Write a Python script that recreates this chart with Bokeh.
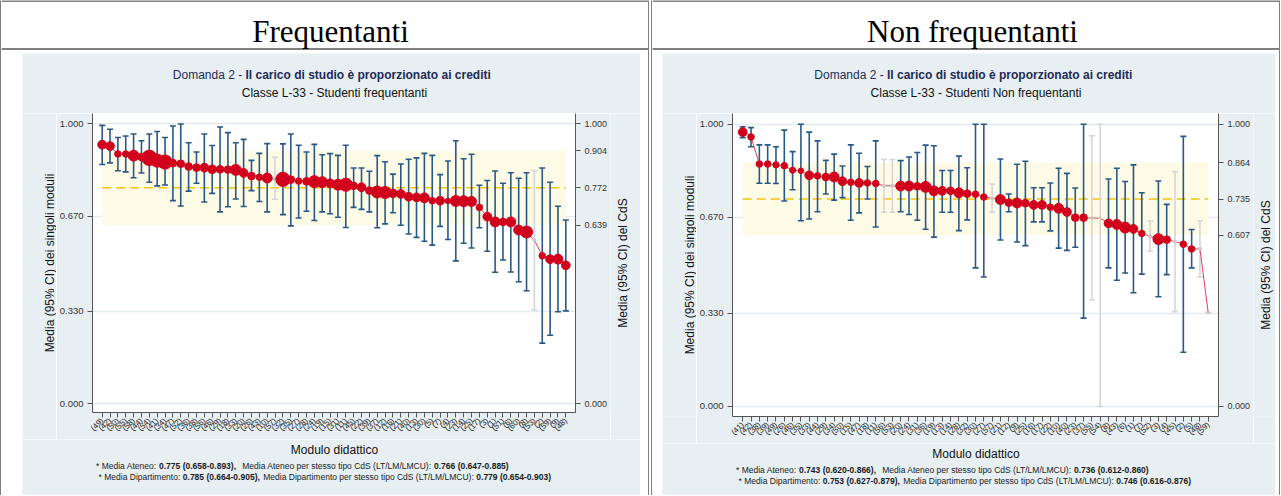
import math
from bokeh.plotting import figure
from bokeh.layouts import row, column
from bokeh.models import (Range1d, FixedTicker, PrintfTickFormatter, LinearAxis,
                          Label, ColumnDataSource, Spacer, Span)
from bokeh.embed import file_html
from bokeh.resources import INLINE

# ---------------- data ----------------
HEADERS = ["Frequentanti", "Non frequentanti"]
TITLE_A = "Domanda 2 -"
TITLE_B = "Il carico di studio è proporzionato ai crediti"
SUBTITLES = ["Classe L-33 - Studenti frequentanti", "Classe L-33 - Studenti Non frequentanti"]
Y_LABEL_L = "Media (95% CI) dei singoli moduli"
Y_LABEL_R = "Media (95% CI) del CdS"
X_LABEL = "Modulo didattico"
LEFT_TICKS = [0.0, 0.33, 0.67, 1.0]

# --- Frequentanti ---
F_LABELS = ["(49)", "(42)", "(50)", "(55)", "(58)", "(44)", "(54)", "(41)", "(34)", "(47)",
            "(52)", "(36)", "(38)", "(56)", "(46)", "(29)", "(18)", "(33)", "(20)", "(26)",
            "(43)", "(10)", "(57)", "(32)", "(35)", "(27)", "(28)", "(24)", "(19)", "(15)",
            "(31)", "(11)", "(45)", "(22)", "(39)", "(37)", "(12)", "(16)", "(21)", "(40)",
            "(13)", "(30)", "(5)", "(7)", "(4)", "(23)", "(14)", "(25)", "(17)", "(3)",
            "(1)", "(51)", "(6)", "(60)", "(8)", "(53)", "(2)", "(59)", "(9)", "(48)"]
F_MEAN = [0.926, 0.921, 0.893, 0.893, 0.887, 0.882, 0.879, 0.869, 0.864, 0.860,
          0.858, 0.848, 0.844, 0.844, 0.838, 0.838, 0.837, 0.836, 0.825, 0.814,
          0.810, 0.807, 0.802, 0.802, 0.801, 0.796, 0.795, 0.794, 0.792, 0.788,
          0.783, 0.783, 0.779, 0.774, 0.762, 0.757, 0.755, 0.752, 0.750, 0.740,
          0.738, 0.736, 0.726, 0.726, 0.725, 0.725, 0.724, 0.723, 0.702, 0.669,
          0.650, 0.650, 0.650, 0.621, 0.614, 0.585, 0.529, 0.517, 0.517, 0.495]
F_HI = [0.995, 0.981, 0.952, 0.957, 0.964, 0.940, 0.964, 0.973, 0.952, 0.993,
        1.000, 0.933, 0.900, 0.964, 0.923, 0.989, 0.969, 0.933, 0.945, 0.870,
        0.895, 0.930, 0.881, 0.929, 0.964, 0.924, 0.900, 0.927, 0.890, 0.894,
        0.888, 0.924, 0.843, 0.843, 0.831, 0.887, 0.865, 0.821, 0.857, 0.874,
        0.879, 0.895, 0.888, 0.819, 0.868, 0.940, 0.876, 0.892, 0.781, 0.798,
        0.832, 0.788, 0.826, 0.806, 0.826, 0.833, 0.843, 0.792, 0.706, 0.657]
F_LO = [0.855, 0.861, 0.833, 0.829, 0.808, 0.825, 0.792, 0.779, 0.782, 0.726,
        0.707, 0.760, 0.788, 0.721, 0.752, 0.686, 0.704, 0.732, 0.705, 0.762,
        0.723, 0.686, 0.731, 0.676, 0.636, 0.664, 0.688, 0.655, 0.686, 0.679,
        0.667, 0.630, 0.702, 0.695, 0.686, 0.629, 0.643, 0.683, 0.638, 0.607,
        0.595, 0.581, 0.567, 0.634, 0.587, 0.511, 0.574, 0.557, 0.629, 0.545,
        0.470, 0.514, 0.471, 0.436, 0.404, 0.336, 0.217, 0.245, 0.329, 0.332]
F_N = [25, 25, 14, 14, 39, 19, 77, 56, 66, 19,
       19, 19, 19, 25, 25, 19, 19, 39, 25, 19,
       14, 32, 3, 66, 19, 14, 19, 47, 39, 25,
       39, 56, 19, 25, 19, 47, 47, 25, 25, 25,
       25, 32, 14, 25, 10, 39, 39, 32, 14, 25,
       32, 19, 32, 32, 47, 3, 14, 25, 32, 25]
F_CDS = [0.772, 0.639, 0.904]          # media CdS, limite inferiore, limite superiore
F_NOTE1 = ["* Media Ateneo:", "0.775 (0.658-0.893),",
           "Media Ateneo per stesso tipo CdS (LT/LM/LMCU):", "0.766 (0.647-0.885)"]
F_NOTE2 = ["* Media Dipartimento:", "0.785 (0.664-0.905),",
           "Media Dipartimento per stesso tipo CdS (LT/LM/LMCU):", "0.779 (0.654-0.903)"]

# --- Non frequentanti ---
N_LABELS = ["(41)", "(42)", "(38)", "(39)", "(49)", "(26)", "(46)", "(35)", "(33)", "(44)",
            "(29)", "(34)", "(50)", "(15)", "(47)", "(18)", "(11)", "(56)", "(53)", "(20)",
            "(24)", "(31)", "(36)", "(19)", "(13)", "(14)", "(28)", "(32)", "(30)", "(27)",
            "(57)", "(21)", "(12)", "(9)", "(25)", "(16)", "(17)", "(22)", "(10)", "(40)",
            "(23)", "(37)", "(55)", "(54)", "(8)", "(43)", "(6)", "(1)", "(7)", "(52)",
            "(3)", "(4)", "(45)", "(2)", "(5)", "(48)", "(59)"]
N_MEAN = [0.972, 0.955, 0.859, 0.859, 0.856, 0.853, 0.837, 0.835, 0.819, 0.817,
          0.813, 0.813, 0.798, 0.794, 0.792, 0.792, 0.790, 0.782, 0.782, 0.781,
          0.781, 0.780, 0.778, 0.764, 0.764, 0.764, 0.757, 0.754, 0.752, 0.742,
          0.738, 0.733, 0.722, 0.721, 0.720, 0.714, 0.714, 0.706, 0.702, 0.689,
          0.669, 0.669, 0.668, 0.667, 0.649, 0.645, 0.634, 0.629, 0.613, 0.603,
          0.593, 0.591, 0.584, 0.575, 0.558, 0.558, 0.331]
N_HI = [0.991, 0.988, 0.927, 0.927, 0.920, 0.979, 0.903, 1.000, 0.972, 0.941,
        0.872, 0.894, 0.852, 0.927, 0.897, 0.850, 0.941, 0.875, 0.875, 0.871,
        0.884, 0.900, 0.926, 0.924, 0.836, 0.836, 0.887, 0.846, 1.000, 1.000,
        0.788, 0.877, 0.753, 0.858, 0.869, 0.775, 0.775, 0.792, 0.844, 0.826,
        0.774, 1.000, 0.959, 1.000, 0.806, 0.844, 0.797, 0.856, 0.757, 0.657,
        0.799, 0.716, 0.832, 0.957, 0.627, 0.658, 0.333]
N_LO = [0.952, 0.920, 0.791, 0.791, 0.790, 0.728, 0.768, 0.658, 0.664, 0.690,
        0.753, 0.731, 0.740, 0.660, 0.686, 0.735, 0.636, 0.688, 0.688, 0.690,
        0.680, 0.660, 0.628, 0.600, 0.688, 0.688, 0.623, 0.661, 0.491, 0.459,
        0.688, 0.590, 0.690, 0.583, 0.570, 0.654, 0.654, 0.622, 0.561, 0.553,
        0.564, 0.313, 0.377, 0.000, 0.491, 0.447, 0.473, 0.403, 0.469, 0.550,
        0.389, 0.467, 0.336, 0.192, 0.491, 0.459, 0.333]
N_N = [25, 14, 14, 14, 13, 14, 12, 10, 25, 14,
       19, 32, 25, 14, 25, 14, 14, 3, 3, 32,
       32, 19, 39, 32, 25, 19, 32, 19, 14, 14,
       3, 32, 19, 32, 19, 25, 25, 14, 32, 25,
       19, 19, 3, 2, 25, 32, 39, 25, 14, 4,
       39, 19, 3, 14, 14, 4, 1]
N_CDS = [0.735, 0.607, 0.864]
N_NOTE1 = ["* Media Ateneo:", "0.743 (0.620-0.866),",
           "Media Ateneo per stesso tipo CdS (LT/LM/LMCU):", "0.736 (0.612-0.860)"]
N_NOTE2 = ["* Media Dipartimento:", "0.753 (0.627-0.879),",
           "Media Dipartimento per stesso tipo CdS (LT/LM/LMCU):", "0.746 (0.616-0.876)"]

# ---------------- style ----------------
SANS = "Liberation Sans"
SERIF = "Liberation Serif"
PANEL_BG = "#e7eff2"
GRID = "#e1ebef"
BAND = "#fdfbe6"
YELLOW = "#f2c40f"
BLUE = "#2a5886"
GREY_BAR = "#d6d6d6"
GREY_PT = "#c9c9c9"
RED = "#d1001c"
LINE_RED = "#e0405a"
AXIS = "#555555"
NAVY = "#1d2b55"
MIN_N = 5

TOTAL_H = 495
HEAD_H = 53
PANEL_H = TOTAL_H - HEAD_H
TITLE_H = 60
AX_B = 27          # space under the frame for the module tick labels
LAB_L = 34         # width of the strip holding the left axis title
BORDER_L = 34
BORDER_R = 32


def add_text(p, text, x, y, size, style="normal", align="left", color="#1a1a1a",
             angle=0.0, font=SANS, baseline="middle"):
    p.add_layout(Label(x=x, y=y, x_units="screen", y_units="screen", text=text,
                       text_font=font, text_font_size=size, text_font_style=style,
                       text_align=align, text_baseline=baseline, text_color=color,
                       angle=angle))


def blank_fig(width, height, fill="white", border_bottom=0, y_flip=False):
    p = figure(width=width, height=height, x_range=Range1d(0, width),
               y_range=Range1d(height, 0) if y_flip else Range1d(0, height),
               output_backend="svg", toolbar_location=None, min_border=0,
               min_border_bottom=border_bottom,
               x_axis_location=None, y_axis_location=None)
    p.grid.visible = False
    p.outline_line_color = None
    p.background_fill_color = fill
    p.border_fill_color = fill
    return p


def style_axis(ax, size):
    ax.axis_line_color = AXIS
    ax.axis_line_width = 1
    ax.major_tick_line_color = AXIS
    ax.major_tick_in = 0
    ax.major_tick_out = 5
    ax.minor_tick_line_color = None
    ax.major_label_text_font = SANS
    ax.major_label_text_font_size = size
    ax.major_label_text_color = "#333333"
    ax.major_label_standoff = 4


def make_panel(labels, mean, lo, hi, n, cds, subtitle, note1, note2,
               width, frame_w, frame_h, y_start, y_end):
    N = len(labels)
    xs = list(range(N))
    chart_w = BORDER_L + frame_w + BORDER_R
    chart_h = frame_h + AX_B
    rlab_w = width - LAB_L - chart_w

    p = figure(width=chart_w, height=chart_h, x_range=Range1d(-1.23, N - 1 + 1.23),
               y_range=Range1d(y_start, y_end), output_backend="svg",
               toolbar_location=None,
               min_border_left=BORDER_L, min_border_right=BORDER_R,
               min_border_top=0, min_border_bottom=AX_B)
    p.background_fill_color = "white"
    p.border_fill_color = PANEL_BG
    p.outline_line_color = None
    p.xgrid.visible = False
    p.ygrid.ticker = FixedTicker(ticks=LEFT_TICKS)
    p.ygrid.grid_line_color = GRID
    p.ygrid.grid_line_width = 1.5

    ya = p.yaxis[0]
    ya.ticker = FixedTicker(ticks=LEFT_TICKS)
    ya.formatter = PrintfTickFormatter(format="%.3f")
    style_axis(ya, "9.5px")

    xa = p.xaxis[0]
    xa.ticker = FixedTicker(ticks=xs)
    xa.major_label_overrides = {i: lab for i, lab in enumerate(labels)}
    xa.major_label_orientation = math.pi / 4
    style_axis(xa, "8px")
    xa.major_label_standoff = 2
    xa.major_label_text_color = "#222222"

    ra = LinearAxis(ticker=FixedTicker(ticks=[0.0, cds[1], cds[0], cds[2], 1.0]),
                    formatter=PrintfTickFormatter(format="%.3f"))
    style_axis(ra, "9px")
    p.add_layout(ra, "right")

    src = ColumnDataSource(dict(
        x=xs, mean=mean, lo=lo, hi=hi,
        size=[1.75 * math.sqrt(v) for v in n],
        pcol=[RED if v >= MIN_N else GREY_PT for v in n],
        bcol=[BLUE if v >= MIN_N else GREY_BAR for v in n],
    ))

    # CdS band and mean
    p.quad(left=[xs[0]], right=[xs[-1]], bottom=[cds[1]], top=[cds[2]],
           fill_color=BAND, line_color=None)
    p.line([xs[0], xs[-1]], [cds[0], cds[0]], line_color=YELLOW, line_width=1.6,
           line_dash="9 5")

    # confidence intervals
    p.segment(x0="x", y0="lo", x1="x", y1="hi", source=src, line_color="bcol",
              line_width=1.6)
    p.scatter(x="x", y="lo", source=src, marker="dash", size=6, line_color="bcol",
              line_width=1.6)
    p.scatter(x="x", y="hi", source=src, marker="dash", size=6, line_color="bcol",
              line_width=1.6)

    # means
    p.line(x="x", y="mean", source=src, line_color=LINE_RED, line_width=1)
    p.scatter(x="x", y="mean", source=src, size="size", fill_color="pcol",
              line_color="pcol")

    # axis-title strips (same borders as the chart, so frames line up)
    llab = blank_fig(LAB_L, chart_h, PANEL_BG, border_bottom=AX_B)
    add_text(llab, Y_LABEL_L, 27, frame_h / 2, "12px", align="center",
             angle=math.pi / 2, color="#111111")
    rlab = blank_fig(rlab_w, chart_h, PANEL_BG, border_bottom=AX_B)
    add_text(rlab, Y_LABEL_R, 12, frame_h / 2, "12px", align="center",
             angle=math.pi / 2, color="#111111")

    # titles
    cx = LAB_L + BORDER_L + frame_w / 2
    top = blank_fig(width, TITLE_H, PANEL_BG)
    split = cx - 89
    add_text(top, TITLE_A, split - 3.3, TITLE_H - 21, "12px", color=NAVY, align="right")
    add_text(top, TITLE_B, split, TITLE_H - 21, "12px", style="bold", color=NAVY)
    add_text(top, subtitle, cx, TITLE_H - 39.7, "12px", align="center", color="#111111")

    # x title and notes
    notes_h = PANEL_H - TITLE_H - chart_h
    bot = blank_fig(width, notes_h, PANEL_BG)
    add_text(bot, X_LABEL, cx, notes_h - 10.5, "12px", align="center", color="#111111")
    x0 = LAB_L + BORDER_L
    for note, yy, s1, s2 in [(note1, 26.5, 68.5, 343.5), (note2, 37, 92.3, 385.8)]:
        add_text(bot, note[0], x0 + s1 - 2.5, notes_h - yy, "8.5px", align="right")
        add_text(bot, note[1], x0 + s1, notes_h - yy, "8.5px", style="bold")
        add_text(bot, note[2], x0 + s2 - 2.5, notes_h - yy, "8.5px", align="right")
        add_text(bot, note[3], x0 + s2, notes_h - yy, "8.5px", style="bold")

    return column(top, row(llab, p, rlab, spacing=0), bot, spacing=0)


def header_cell(width, text, cx):
    h = blank_fig(width, HEAD_H, "white", y_flip=True)
    h.add_layout(Span(location=0.5, dimension="width", line_color="black", line_width=1))
    h.add_layout(Span(location=48.5, dimension="width", line_color="black", line_width=1))
    h.add_layout(Label(x=cx, y=31, text=text, text_font=SERIF, text_font_size="31px",
                       text_align="center", text_baseline="middle", text_color="black"))
    return h


def vline(h):
    return blank_fig(1, h, "black")


panel_f = make_panel(F_LABELS, F_MEAN, F_LO, F_HI, F_N, F_CDS, SUBTITLES[0],
                     F_NOTE1, F_NOTE2, width=618, frame_w=488, frame_h=299,
                     y_start=-0.031, y_end=1.0375)
panel_n = make_panel(N_LABELS, N_MEAN, N_LO, N_HI, N_N, N_CDS, SUBTITLES[1],
                     N_NOTE1, N_NOTE2, width=613, frame_w=491, frame_h=303,
                     y_start=-0.0355, y_end=1.038)

CELL_L, CELL_R = 647, 627
cell_f = column(header_cell(CELL_L, HEADERS[0], 329),
                row(Spacer(width=21, height=PANEL_H), panel_f, Spacer(width=8, height=PANEL_H),
                    spacing=0),
                spacing=0)
cell_n = column(header_cell(CELL_R, HEADERS[1], 320),
                row(Spacer(width=10, height=PANEL_H), panel_n, Spacer(width=4, height=PANEL_H),
                    spacing=0),
                spacing=0)

layout = row(vline(TOTAL_H), cell_f, vline(TOTAL_H), Spacer(width=2, height=TOTAL_H),
             vline(TOTAL_H), cell_n, vline(TOTAL_H), spacing=0)

open("out.html", "w").write(file_html(layout, INLINE))
